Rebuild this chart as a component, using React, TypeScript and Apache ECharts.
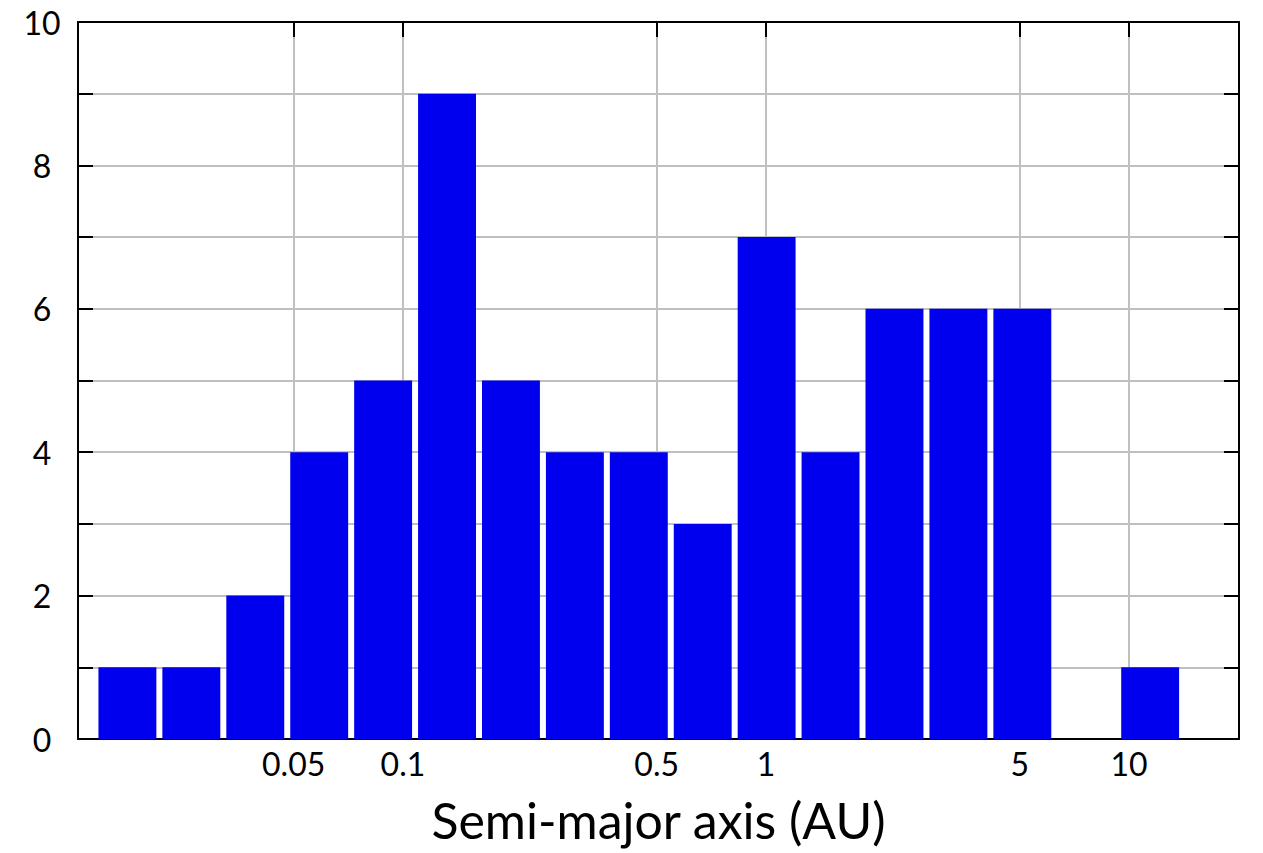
import React, { useEffect, useRef } from "react";
import * as echarts from "echarts";

// Histogram bin edges in AU (logarithmic bins, 18 edges -> 17 bins)
const binEdges = [
  0.01422, 0.02133, 0.032, 0.048, 0.072, 0.108, 0.162, 0.243, 0.3645,
  0.5468, 0.8201, 1.23, 1.845, 2.768, 4.152, 6.228, 9.342, 14.01,
];
// Number of planets in each bin
const counts = [1, 1, 2, 4, 5, 9, 5, 4, 4, 3, 7, 4, 6, 6, 6, 0, 1];
// Labelled positions on the semi-major axis
const xTickValues = [0.05, 0.1, 0.5, 1, 5, 10];
const xRange = [0.01273, 20.1];
const yRange = [0, 10];

const FONT = "Lato, 'Open Sans', sans-serif";

export default function App() {
  const ref = useRef<HTMLDivElement>(null);

  useEffect(() => {
    if (!ref.current) return;
    const chart = echarts.init(ref.current, undefined, { renderer: "svg" });

    const logTicks = xTickValues.map((v) => Math.log10(v));
    const fmt = (v: number) => String(Number(Math.pow(10, v).toPrecision(3)));
    const data = counts.map((c, i) => [
      Math.log10(binEdges[i]),
      Math.log10(binEdges[i + 1]),
      c,
    ]);

    const axisLine = {
      show: true,
      onZero: false,
      lineStyle: { color: "#000", width: 2 },
    };
    const tick = (extra: any = {}) => ({
      show: true,
      inside: true,
      length: 15,
      lineStyle: { color: "#000", width: 2 },
      ...extra,
    });
    const grid = { show: true, lineStyle: { color: "#c0c0c0", width: 2 } };

    chart.setOption({
      animation: false,
      backgroundColor: "#fff",
      grid: { left: 78, right: 24, top: 22, bottom: 114 },
      xAxis: [
        {
          type: "value",
          position: "bottom",
          min: Math.log10(xRange[0]),
          max: Math.log10(xRange[1]),
          axisLine,
          axisTick: tick({ customValues: logTicks }),
          axisLabel: {
            customValues: logTicks,
            formatter: fmt,
            color: "#000",
            fontFamily: FONT,
            fontSize: 32,
            margin: 8,
          },
          splitLine: grid,
          name: "Semi-major axis (AU)",
          nameLocation: "middle",
          nameGap: 56,
          nameTextStyle: { color: "#000", fontFamily: FONT, fontSize: 50 },
        },
        {
          type: "value",
          position: "top",
          min: Math.log10(xRange[0]),
          max: Math.log10(xRange[1]),
          axisLine,
          axisTick: tick({ customValues: logTicks }),
          axisLabel: { show: false },
          splitLine: { show: false },
        },
      ],
      yAxis: [
        {
          type: "value",
          position: "left",
          min: yRange[0],
          max: yRange[1],
          interval: 1,
          axisLine,
          axisTick: tick(),
          axisLabel: {
            formatter: (v: number) => (v % 2 === 0 ? String(v) : ""),
            color: "#000",
            fontFamily: FONT,
            fontSize: 32,
            align: "center",
            margin: 36,
          },
          splitLine: grid,
        },
        {
          type: "value",
          position: "right",
          min: yRange[0],
          max: yRange[1],
          interval: 1,
          axisLine,
          axisTick: tick(),
          axisLabel: { show: false },
          splitLine: { show: false },
        },
      ],
      series: [
        {
          type: "custom",
          xAxisIndex: 0,
          yAxisIndex: 0,
          encode: { x: [0, 1], y: 2 },
          data,
          renderItem: (_params: any, api: any) => {
            const p0 = api.coord([api.value(0), 0]);
            const p1 = api.coord([api.value(1), api.value(2)]);
            return {
              type: "rect",
              shape: {
                x: p0[0] + 3,
                y: p1[1],
                width: p1[0] - p0[0] - 6,
                height: p0[1] - p1[1],
              },
              style: { fill: "#0000ee" },
            };
          },
        },
      ],
    });

    return () => chart.dispose();
  }, []);

  return (
    <div
      ref={ref}
      style={{ position: "fixed", left: 0, top: 0, width: 1263, height: 853 }}
    />
  );
}
